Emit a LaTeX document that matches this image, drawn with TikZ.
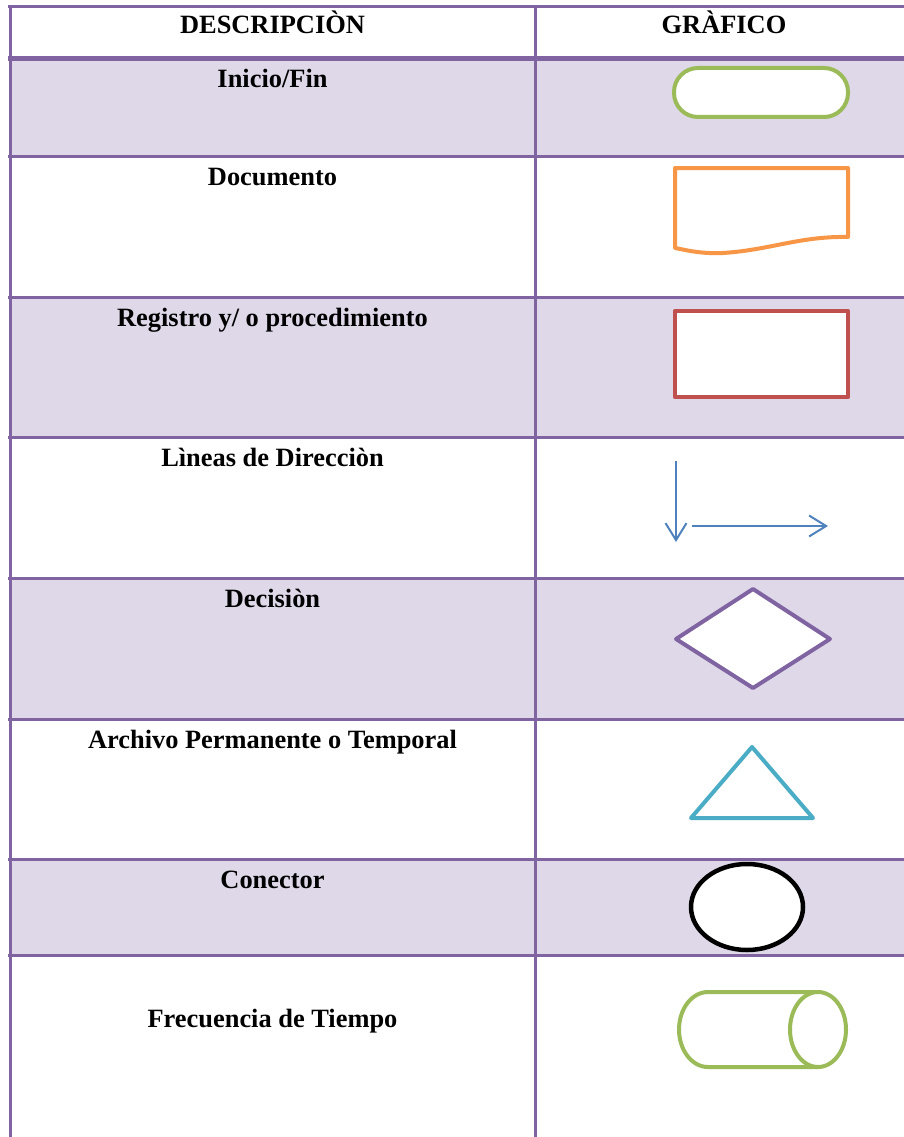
\documentclass[tikz,border=0pt]{standalone}
\usepackage{fontspec}
\setmainfont{Liberation Serif}
\usetikzlibrary{arrows.meta}

\definecolor{gridpurple}{HTML}{8064A2}
\definecolor{bandlav}{HTML}{DFD8E8}
\definecolor{shgreen}{HTML}{9BBB59}
\definecolor{shorange}{HTML}{F79646}
\definecolor{shred}{HTML}{C0504D}
\definecolor{shblue}{HTML}{4F81BD}
\definecolor{shcyan}{HTML}{4BACC6}

\begin{document}
\begin{tikzpicture}[x=1pt,y=-1pt,
  gridline/.style={draw=gridpurple,line width=3pt},
  band/.style={fill=bandlav},
  label/.style={font=\fontsize{26.4}{30}\selectfont\bfseries,anchor=base,inner sep=0pt},
  symbol/.style={fill=white,line width=4pt,line join=round},
  dirline/.style={draw=shblue,line width=2pt,
    -{Straight Barb[length=17pt,width=21pt,line width=2pt]}}]

\useasboundingbox (0,0) rectangle (904,1137);
\clip (0,0) rectangle (904,1137);

% banded rows
\fill[band] (10,59) rectangle (920,156);
\fill[band] (10,297) rectangle (920,437);
\fill[band] (10,578) rectangle (920,719);
\fill[band] (10,859) rectangle (920,955);

% grid
\foreach \yy in {7,156,297,437,578,719,859,955}
  \draw[gridline] (8,\yy) -- (920,\yy);
\draw[gridpurple,line width=5pt] (8,59) -- (920,59);
\draw[gridline] (10,5.5) -- (10,1140);
\draw[gridline] (535,5.5) -- (535,1140);

% column headers
\node[label] (hdesc) at (272.5,34) {DESCRIPCIÒN};
\node[label] (hgraf) at (724,34) {GRÀFICO};

% descriptions
\node[label] (tinicio) at (272.5,88) {Inicio/Fin};
\node[label] (tdoc) at (272.5,185) {Documento};
\node[label] (treg) at (272.5,326) {Registro y/ o procedimiento};
\node[label] (tlin) at (272.5,466) {Lìneas de Direcciòn};
\node[label] (tdec) at (272.5,607) {Decisiòn};
\node[label] (tarch) at (272.5,748) {Archivo Permanente o Temporal};
\node[label] (tcon) at (272.5,888) {Conector};
\node[label] (tfrec) at (272.5,1027) {Frecuencia de Tiempo};

% terminator
\draw[symbol,draw=shgreen,rounded corners=24pt] (674,68) rectangle (848,117);

% document
\draw[symbol,draw=shorange] (675,168) -- (848,168) -- (848,237)
  .. controls (800,236) and (770,250) .. (723,253)
  .. controls (700,254) and (686,250) .. (675,248) -- cycle;

% process
\draw[symbol,draw=shred,line width=4.5pt] (675,311) rectangle (848,397);

% direction lines
\coordinate (vs) at (676,461);
\coordinate (ve) at (676,542);
\coordinate (hs) at (692,526);
\coordinate (he) at (828,526);
\draw[dirline] (vs) -- (ve);
\draw[dirline] (hs) -- (he);

% decision
\draw[symbol,draw=gridpurple] (753,589) -- (830,639) -- (753,688) -- (676,639) -- cycle;

% storage
\draw[symbol,draw=shcyan] (752,747) -- (813,818) -- (691,818) -- cycle;

% connector
\draw[symbol,draw=black,line width=4.5pt] (747,907) ellipse [x radius=56, y radius=43];

% stored data / cylinder
\draw[symbol,draw=shgreen] (708,992) -- (818,992) -- (818,1067) -- (708,1067)
  arc[start angle=-270, end angle=-90, x radius=29, y radius=37.5] -- cycle;
\draw[symbol,draw=shgreen] (818,1029.5) ellipse [x radius=28, y radius=37.5];

\end{tikzpicture}
\end{document}
